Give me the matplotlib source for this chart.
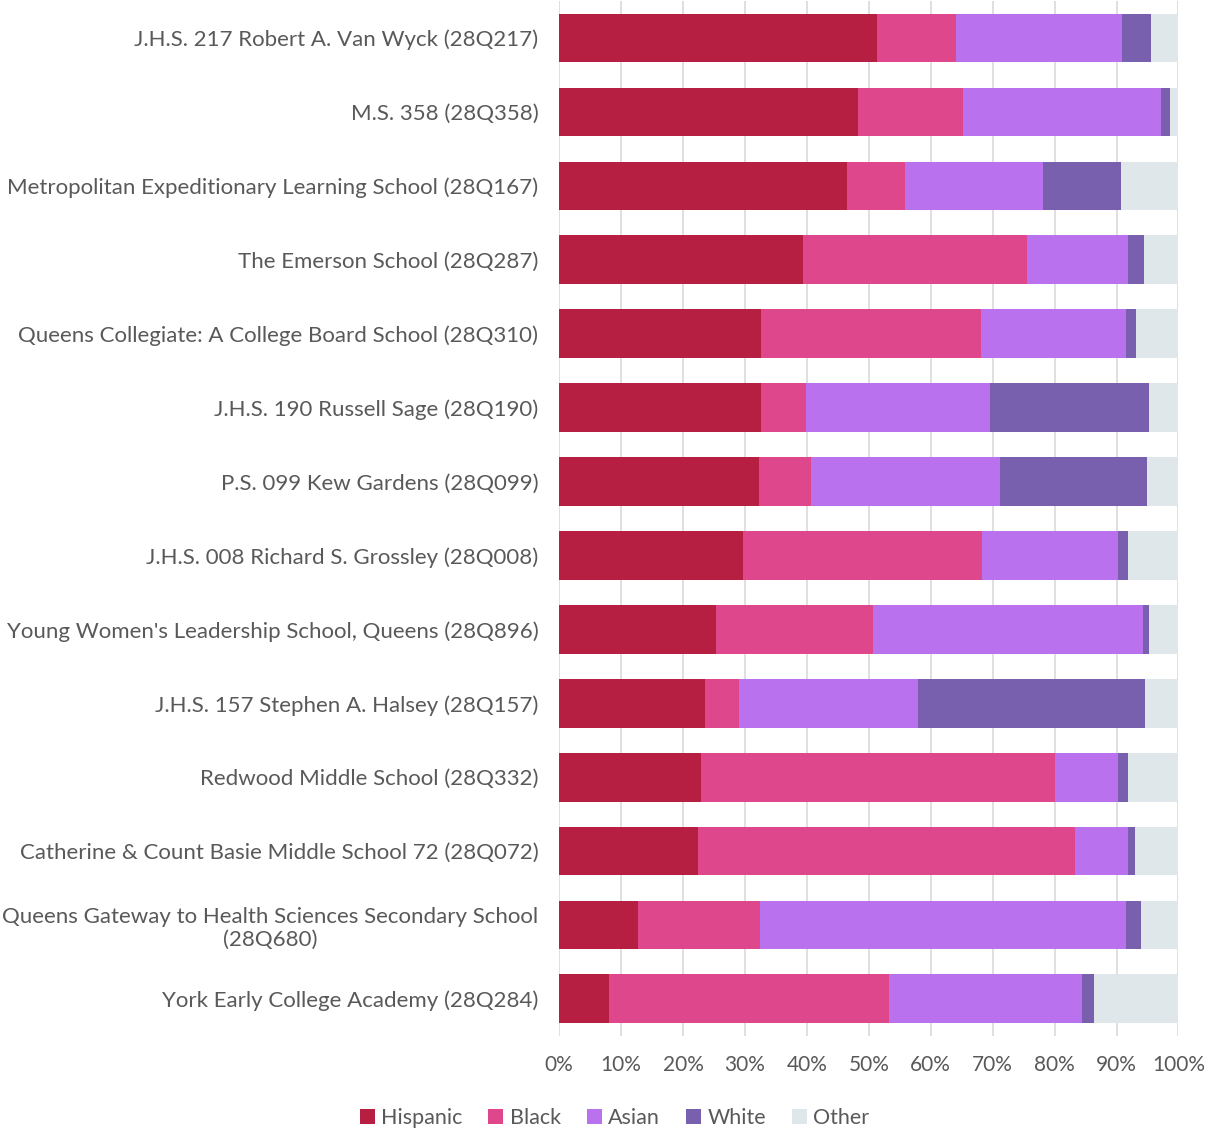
import matplotlib
matplotlib.use("Agg")
import matplotlib.pyplot as plt
import numpy as np

schools = [
    "J.H.S. 217 Robert A. Van Wyck (28Q217)",
    "M.S. 358 (28Q358)",
    "Metropolitan Expeditionary Learning School (28Q167)",
    "The Emerson School (28Q287)",
    "Queens Collegiate: A College Board School (28Q310)",
    "J.H.S. 190 Russell Sage (28Q190)",
    "P.S. 099 Kew Gardens (28Q099)",
    "J.H.S. 008 Richard S. Grossley (28Q008)",
    "Young Women's Leadership School, Queens (28Q896)",
    "J.H.S. 157 Stephen A. Halsey (28Q157)",
    "Redwood Middle School (28Q332)",
    "Catherine & Count Basie Middle School 72 (28Q072)",
    "Queens Gateway to Health Sciences Secondary School\n(28Q680)",
    "York Early College Academy (28Q284)",
]
hispanic = [51.3, 48.2, 46.5, 39.4, 32.6, 32.6, 32.2, 29.7, 25.4, 23.5, 22.9, 22.4, 12.7, 8.1]
black    = [12.7, 17.0, 9.4, 36.1, 35.5, 7.3, 8.5, 38.6, 25.3, 5.6, 57.1, 60.9, 19.8, 45.2]
asian    = [26.9, 31.9, 22.3, 16.3, 23.5, 29.7, 30.5, 22.0, 43.5, 28.8, 10.3, 8.5, 59.1, 31.2]
white    = [4.6, 1.5, 12.5, 2.6, 1.6, 25.7, 23.7, 1.5, 1.1, 36.7, 1.6, 1.2, 2.4, 1.8]
other    = [4.5, 1.4, 9.3, 5.6, 6.8, 4.7, 5.1, 8.2, 4.7, 5.4, 8.1, 7.0, 6.0, 13.7]
series_names = ["Hispanic", "Black", "Asian", "White", "Other"]
colors = ["#B71F42", "#DE478B", "#BA71EE", "#7860AE", "#E0E7EB"]
xticks = [0, 10, 20, 30, 40, 50, 60, 70, 80, 90, 100]

plt.rcParams['font.family'] = ['Lato', 'DejaVu Sans']
txt = "#595959"

fig = plt.figure(figsize=(12.05, 11.32), dpi=100)
ax = fig.add_axes([0.464, 0.085, 0.514, 0.914])

data = [hispanic, black, asian, white, other]
y = np.arange(len(schools))
left = np.zeros(len(schools))
for name, vals, c in zip(series_names, data, colors):
    v = np.array(vals, dtype=float)
    ax.barh(y, v, left=left, height=0.66, color=c, label=name, zorder=2)
    left += v

ax.set_ylim(len(schools) - 0.5, -0.5)
ax.set_xlim(0, 100)
ax.set_yticks(y)
ax.set_yticklabels(schools, fontsize=16, color=txt, multialignment='center')
ax.set_xticks(xticks)
ax.set_xticklabels([f"{t}%" for t in xticks], fontsize=15, color=txt)
ax.tick_params(axis='y', length=0, pad=15)
ax.tick_params(axis='x', length=0, pad=14)
ax.grid(axis='x', color="#D9D9D9", linewidth=1.2, zorder=0)
for s in ax.spines.values():
    s.set_visible(False)

handles, labels = ax.get_legend_handles_labels()
fig.legend(handles, labels, loc='center', bbox_to_anchor=(0.51, 0.012), ncol=5,
           frameon=False, fontsize=15.5, labelcolor=txt, handlelength=0.7,
           handleheight=0.7, handletextpad=0.3, columnspacing=1.2)

fig.savefig("out.png", dpi=100)
